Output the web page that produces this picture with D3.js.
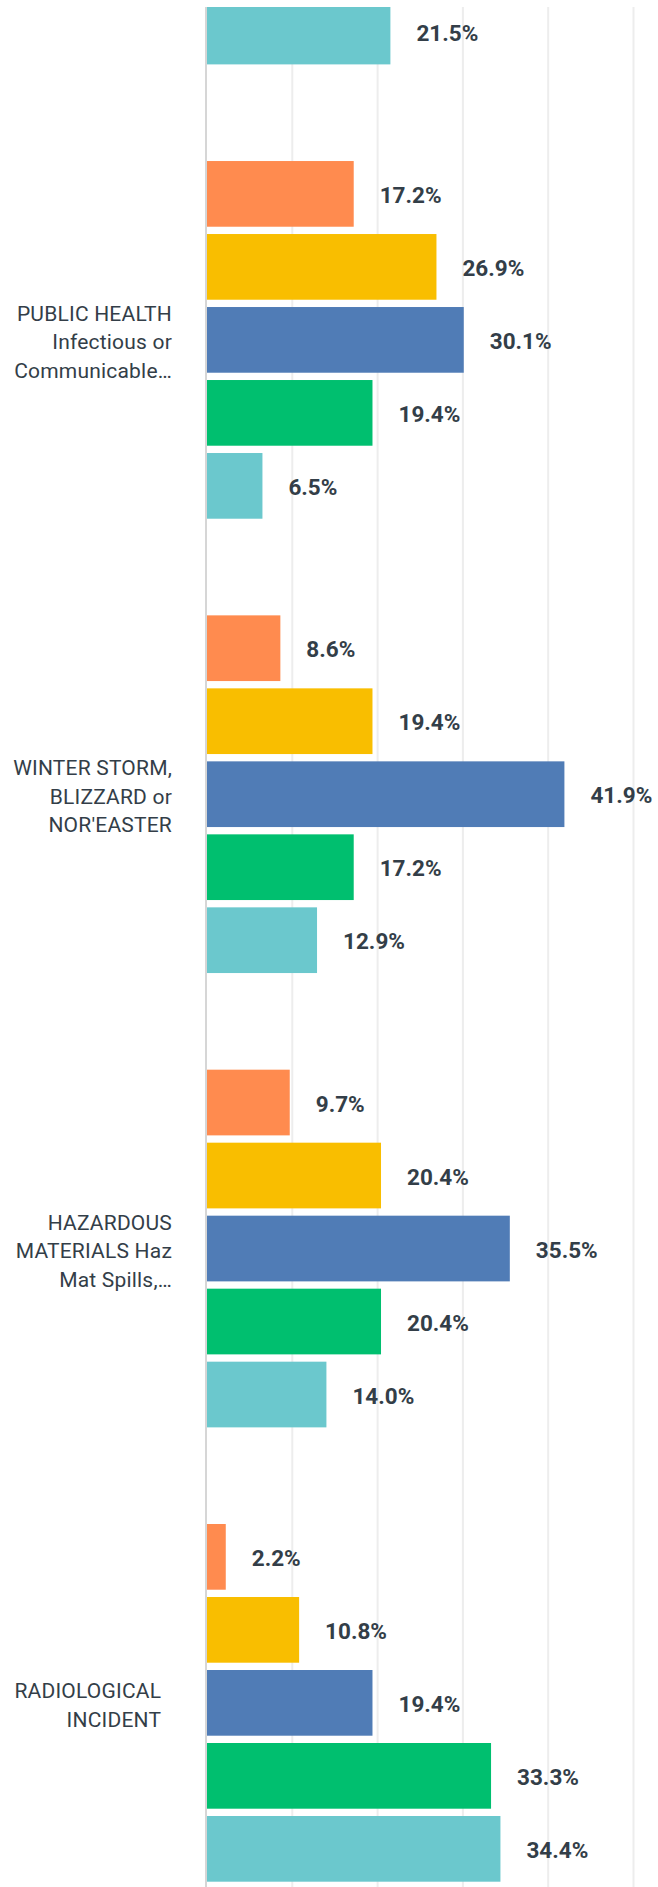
<!DOCTYPE html>
<html>
<head>
<meta charset="utf-8">
<script src="https://d3js.org/d3.v7.min.js"></script>
<style>
	body {margin:0; background:#fff;}
	.cat_label {font-family:Roboto, sans-serif; font-size:21px; letter-spacing:0.2px; fill:#333e48;}
	.val_label {font-family:Roboto, sans-serif; font-size:22.5px; font-weight:bold; fill:#333e48;}
</style>
</head>
<body>
<div id="chart"></div>
<script>

// categories (first one is cut off at the top of the picture, its label is not visible)
var categories=['prev','public_health','winter_storm','hazmat','radiological'];
var category_lines=[
	[],
	['PUBLIC HEALTH','Infectious or','Communicable\u2026'],
	['WINTER STORM,','BLIZZARD or','NOR\'EASTER'],
	['HAZARDOUS','MATERIALS Haz','Mat Spills,\u2026'],
	['RADIOLOGICAL\u00a0\u00a0','INCIDENT\u00a0\u00a0']
];
var series=['s1','s2','s3','s4','s5'];
var series_colors=['#ff8b4f','#f9be00','#507cb6','#00bf6f','#6bc8cd'];

// values in percent, one array per series (null = outside the picture)
var s1_values=[null,17.2,8.6,9.7,2.2];
var s2_values=[null,26.9,19.4,20.4,10.8];
var s3_values=[null,30.1,41.9,35.5,19.4];
var s4_values=[null,19.4,17.2,20.4,33.3];
var s5_values=[21.5,6.5,12.9,14.0,34.4];
var x_ticks=[0,10,20,30,40,50];

var W=658;
var H=1887;
var clip_top=7;

var all_values=[s1_values,s2_values,s3_values,s4_values,s5_values];

var svg=d3.select('#chart').append('svg')
	.attr('width',W)
	.attr('height',H);

svg.append('defs').append('clipPath').attr('id','plot_clip')
	.append('rect')
	.attr('x',0).attr('y',clip_top)
	.attr('width',W).attr('height',H-clip_top);

var xScale=d3.scaleLinear()
	.domain([0,50])
	.range([207,633.5]);

var y0=d3.scaleBand()
	.domain(categories)
	.range([-293.3,1881.7])
	.paddingInner(0.2127)
	.paddingOuter(0);

var y1=d3.scaleBand()
	.domain(series)
	.range([0,y0.bandwidth()])
	.paddingInner(0.1);

var plot=svg.append('g').attr('clip-path','url(#plot_clip)');

// grid lines
plot.append('g')
	.selectAll('line')
	.data(x_ticks.slice(1))
	.enter().append('line')
	.attr('x1',function(d) {return xScale(d);})
	.attr('x2',function(d) {return xScale(d);})
	.attr('y1',0)
	.attr('y2',H)
	.attr('stroke','#ededed')
	.attr('stroke-width',2);

// flatten to bar records
var data=[];
for (var i=0; i<categories.length; i++) {
	for (var j=0; j<series.length; j++) {
		var v=all_values[j][i];
		if (v===null) continue;
		data.push({cat:categories[i],ser:series[j],color:series_colors[j],value:v});
	}
}

var bar=plot.append('g')
	.selectAll('.bar')
	.data(data)
	.enter().append('g');

bar.append('rect')
	.attr('class','bar')
	.attr('x',xScale(0))
	.attr('y',function(d) {return y0(d.cat)+y1(d.ser);})
	.attr('width',function(d) {return xScale(d.value)-xScale(0);})
	.attr('height',y1.bandwidth())
	.attr('fill',function(d) {return d.color;});

bar.append('text')
	.attr('class','val_label')
	.attr('x',function(d) {return xScale(d.value)+26;})
	.attr('y',function(d) {return y0(d.cat)+y1(d.ser)+y1.bandwidth()/2+9;})
	.text(function(d) {return d.value.toFixed(1)+'%';});

// vertical axis line
plot.append('line')
	.attr('x1',206).attr('x2',206)
	.attr('y1',0).attr('y2',H)
	.attr('stroke','#d6d6d6')
	.attr('stroke-width',2);

// category labels
var line_h=28.5;
var lab=svg.append('g')
	.selectAll('.cat')
	.data(categories)
	.enter().append('text')
	.attr('class','cat_label')
	.attr('text-anchor','end')
	.attr('transform',function(d) {return 'translate(172,'+(y0(d)+y0.bandwidth()/2+9.5)+')';});

lab.each(function(d,i) {
	var lines=category_lines[i];
	var n=lines.length;
	for (var k=0; k<n; k++) {
		d3.select(this).append('tspan')
			.attr('x',0)
			.attr('y',(k-(n-1)/2)*line_h)
			.text(lines[k]);
	}
});

</script>
</body>
</html>
